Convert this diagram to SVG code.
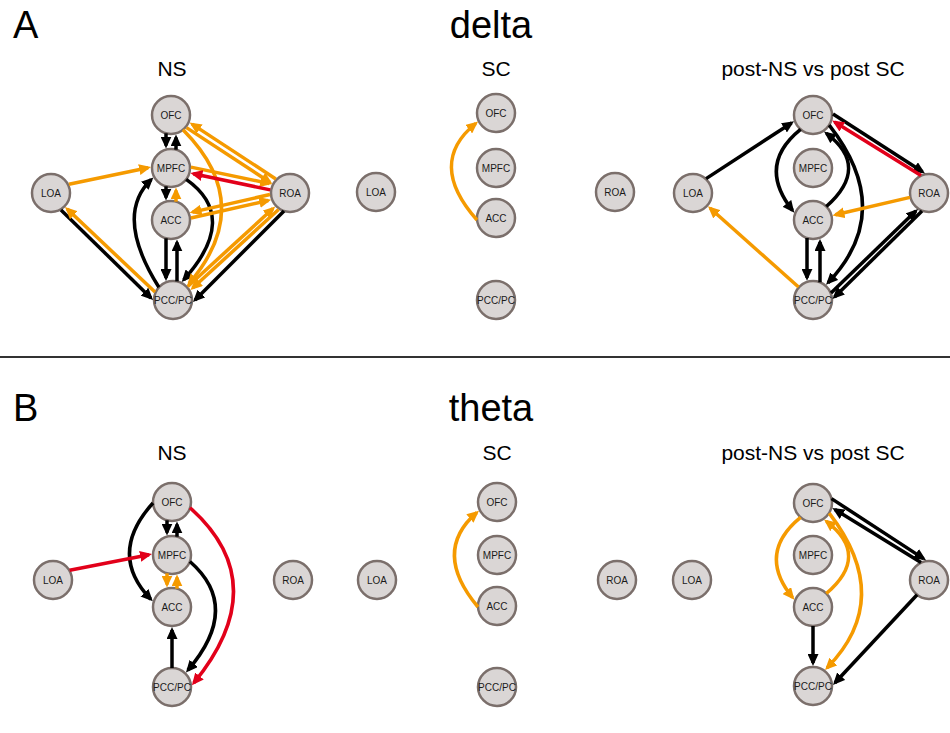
<svg xmlns="http://www.w3.org/2000/svg" width="950" height="733" viewBox="0 0 950 733">
<defs>
<style>
.n circle{fill:#dad6d5;stroke:#7b6f6b;stroke-width:2.5}
.n text{font-family:"Liberation Sans",Arial,sans-serif;font-size:10px;fill:#1a1a1a;text-anchor:middle}
.t{font-family:"Liberation Sans",Arial,sans-serif;fill:#000}
.big{font-size:38px}
.sub{font-size:21px;text-anchor:middle}
#edges path{fill:none;stroke-width:3.5}
.k{stroke:#000;marker-end:url(#ak)}
.o{stroke:#f59a00;marker-end:url(#ao)}
.r{stroke:#e2001a;marker-end:url(#ar)}
</style>
<marker id="ak" markerUnits="userSpaceOnUse" markerWidth="12" markerHeight="11" viewBox="0 0 12 11" refX="9" refY="5.5" orient="auto"><path d="M0,0 L12,5.5 L0,11 z" fill="#000"/></marker>
<marker id="ao" markerUnits="userSpaceOnUse" markerWidth="12" markerHeight="11" viewBox="0 0 12 11" refX="9" refY="5.5" orient="auto"><path d="M0,0 L12,5.5 L0,11 z" fill="#f59a00"/></marker>
<marker id="ar" markerUnits="userSpaceOnUse" markerWidth="12" markerHeight="11" viewBox="0 0 12 11" refX="9" refY="5.5" orient="auto"><path d="M0,0 L12,5.5 L0,11 z" fill="#e2001a"/></marker>
</defs>
<rect width="950" height="733" fill="#fff"/>
<g id="titles">
<text class="t big" x="13" y="38">A</text>
<text class="t big" x="491" y="38" text-anchor="middle">delta</text>
<text class="t sub" x="172" y="76">NS</text>
<text class="t sub" x="496" y="76">SC</text>
<text class="t sub" x="813" y="76">post-NS vs post SC</text>
<text class="t big" x="13" y="421">B</text>
<text class="t big" x="491" y="421" text-anchor="middle">theta</text>
<text class="t sub" x="172" y="460">NS</text>
<text class="t sub" x="497" y="460">SC</text>
<text class="t sub" x="813" y="460">post-NS vs post SC</text>
</g>
<line x1="0" y1="357" x2="950" y2="357" stroke="#333" stroke-width="2"/>
<g id="nodes">
<g id="a-ns-ofc" class="n"><circle cx="171" cy="115" r="19"/><text x="171" y="118.5">OFC</text></g>
<g id="a-ns-mpfc" class="n"><circle cx="171" cy="168" r="19"/><text x="171" y="171.5">MPFC</text></g>
<g id="a-ns-acc" class="n"><circle cx="171" cy="220" r="19"/><text x="171" y="223.5">ACC</text></g>
<g id="a-ns-pcc" class="n"><circle cx="173" cy="300" r="19"/><text x="173" y="303.5">PCC/PC</text></g>
<g id="a-ns-loa" class="n"><circle cx="51" cy="193" r="19"/><text x="51" y="196.5">LOA</text></g>
<g id="a-ns-roa" class="n"><circle cx="290" cy="193" r="19"/><text x="290" y="196.5">ROA</text></g>

<g id="a-sc-ofc" class="n"><circle cx="496" cy="113" r="19"/><text x="496" y="116.5">OFC</text></g>
<g id="a-sc-mpfc" class="n"><circle cx="496" cy="168" r="19"/><text x="496" y="171.5">MPFC</text></g>
<g id="a-sc-acc" class="n"><circle cx="496" cy="218" r="19"/><text x="496" y="221.5">ACC</text></g>
<g id="a-sc-pcc" class="n"><circle cx="496" cy="300" r="19"/><text x="496" y="303.5">PCC/PC</text></g>
<g id="a-sc-loa" class="n"><circle cx="376" cy="192" r="19"/><text x="376" y="195.5">LOA</text></g>
<g id="a-sc-roa" class="n"><circle cx="615" cy="192" r="19"/><text x="615" y="195.5">ROA</text></g>

<g id="a-post-ofc" class="n"><circle cx="813" cy="115" r="19"/><text x="813" y="118.5">OFC</text></g>
<g id="a-post-mpfc" class="n"><circle cx="813" cy="168" r="19"/><text x="813" y="171.5">MPFC</text></g>
<g id="a-post-acc" class="n"><circle cx="813" cy="220" r="19"/><text x="813" y="223.5">ACC</text></g>
<g id="a-post-pcc" class="n"><circle cx="813" cy="300" r="19"/><text x="813" y="303.5">PCC/PC</text></g>
<g id="a-post-loa" class="n"><circle cx="693" cy="193" r="19"/><text x="693" y="196.5">LOA</text></g>
<g id="a-post-roa" class="n"><circle cx="929" cy="193" r="19"/><text x="929" y="196.5">ROA</text></g>

<g id="b-ns-ofc" class="n"><circle cx="172" cy="502" r="19"/><text x="172" y="505.5">OFC</text></g>
<g id="b-ns-mpfc" class="n"><circle cx="172" cy="555" r="19"/><text x="172" y="558.5">MPFC</text></g>
<g id="b-ns-acc" class="n"><circle cx="172" cy="607" r="19"/><text x="172" y="610.5">ACC</text></g>
<g id="b-ns-pcc" class="n"><circle cx="172" cy="687" r="19"/><text x="172" y="690.5">PCC/PC</text></g>
<g id="b-ns-loa" class="n"><circle cx="53" cy="580" r="19"/><text x="53" y="583.5">LOA</text></g>
<g id="b-ns-roa" class="n"><circle cx="293" cy="580" r="19"/><text x="293" y="583.5">ROA</text></g>

<g id="b-sc-ofc" class="n"><circle cx="497" cy="502" r="19"/><text x="497" y="505.5">OFC</text></g>
<g id="b-sc-mpfc" class="n"><circle cx="497" cy="555" r="19"/><text x="497" y="558.5">MPFC</text></g>
<g id="b-sc-acc" class="n"><circle cx="497" cy="606" r="19"/><text x="497" y="609.5">ACC</text></g>
<g id="b-sc-pcc" class="n"><circle cx="497" cy="687" r="19"/><text x="497" y="690.5">PCC/PC</text></g>
<g id="b-sc-loa" class="n"><circle cx="377" cy="580" r="19"/><text x="377" y="583.5">LOA</text></g>
<g id="b-sc-roa" class="n"><circle cx="617" cy="580" r="19"/><text x="617" y="583.5">ROA</text></g>

<g id="b-post-ofc" class="n"><circle cx="813" cy="503" r="19"/><text x="813" y="506.5">OFC</text></g>
<g id="b-post-mpfc" class="n"><circle cx="813" cy="555" r="19"/><text x="813" y="558.5">MPFC</text></g>
<g id="b-post-acc" class="n"><circle cx="813" cy="607" r="19"/><text x="813" y="610.5">ACC</text></g>
<g id="b-post-pcc" class="n"><circle cx="813" cy="686" r="19"/><text x="813" y="689.5">PCC/PC</text></g>
<g id="b-post-loa" class="n"><circle cx="692" cy="580" r="19"/><text x="692" y="583.5">LOA</text></g>
<g id="b-post-roa" class="n"><circle cx="929" cy="580" r="19"/><text x="929" y="583.5">ROA</text></g>
</g>
<g id="edges">
<path class="k" d="M166,133.3 L166,145.6"/>
<path class="k" d="M176,149.7 L176,137.4"/>
<path class="k" d="M166,186.3 L166,197.6"/>
<path class="o" d="M176,201.7 L176,190.4"/>
<path class="k" d="M166,238.3 L166,278.1"/>
<path class="k" d="M177,281.4 L177,242.4"/>
<path class="k" d="M158.9,287.3 Q113.8,215.6 151.2,179.5"/>
<path class="k" d="M186.2,179.4 Q240,217.3 183.7,279.8"/>
<path class="o" d="M183,129.8 Q257,204.2 189,283.6"/>
<path class="o" d="M275.8,179 L192.1,124.1"/>
<path class="o" d="M186.5,127.6 L269.8,182.2"/>
<path class="o" d="M68.9,184.2 L148.1,167.7"/>
<path class="o" d="M190.9,167.1 L269.1,183.5"/>
<path class="r" d="M270.2,189.9 L193.3,173.7"/>
<path class="o" d="M270,194.5 L192.5,212.1"/>
<path class="o" d="M190.9,218 L268.3,200.5"/>
<path class="o" d="M187.8,286.5 L273,208.5"/>
<path class="o" d="M278.6,209.5 L192.7,288"/>
<path class="k" d="M284,211 L195.1,299.9"/>
<path class="k" d="M61,210 L150.9,297.9"/>
<path class="o" d="M155,292 L67.2,209.1"/>

<path class="o" d="M477,220 Q426.5,163.2 475.7,123.5"/>

<path class="k" d="M706.1,178.6 L791.5,123"/>
<path class="o" d="M798.5,287 L710.2,208.3"/>
<path class="k" d="M800.6,129.4 Q756.5,164.9 792.5,210.4"/>
<path class="k" d="M826.3,206.5 Q870.85,166.95 826.4,133.4"/>
<path class="k" d="M829.2,125.1 Q896.4,211 828.1,282.7"/>
<path class="k" d="M833,114 L922.5,171.8"/>
<path class="r" d="M921,175.5 L834.7,122.1"/>
<path class="o" d="M910,197.4 L835.4,214.8"/>
<path class="k" d="M807,238 L807,277.8"/>
<path class="k" d="M820,282.3 L820,241.9"/>
<path class="k" d="M831,293 L915.8,211.1"/>
<path class="k" d="M922,211 L834.6,296.9"/>

<path class="k" d="M167,520.3 L167,532.6"/>
<path class="k" d="M177,536.7 L177,524.4"/>
<path class="o" d="M167,573.3 L167,584.6"/>
<path class="o" d="M177,588.7 L177,577.4"/>
<path class="k" d="M153,503 Q107.1,553.8 150.7,599.2"/>
<path class="k" d="M189.9,561.5 Q242.1,607 187.9,670.2"/>
<path class="r" d="M190,507.7 Q275.05,583.5 193.8,683"/>
<path class="r" d="M69.7,570.3 L149,554.7"/>
<path class="k" d="M172,668 L172,630"/>

<path class="o" d="M478,607 Q431.5,551.7 476.7,512.6"/>

<path class="o" d="M800.6,517.4 Q756.5,553.4 792.5,597.5"/>
<path class="o" d="M826.3,593.5 Q870.85,555.45 826.4,521.4"/>
<path class="o" d="M829.2,513.1 Q894.9,598.45 827.1,667.9"/>
<path class="k" d="M813,626 L813,663"/>
<path class="k" d="M831.5,498.6 L923.5,558.6"/>
<path class="k" d="M921,562.5 L834.9,509.6"/>
<path class="k" d="M917.1,594.8 L835,682.8"/>
</g>
</svg>
